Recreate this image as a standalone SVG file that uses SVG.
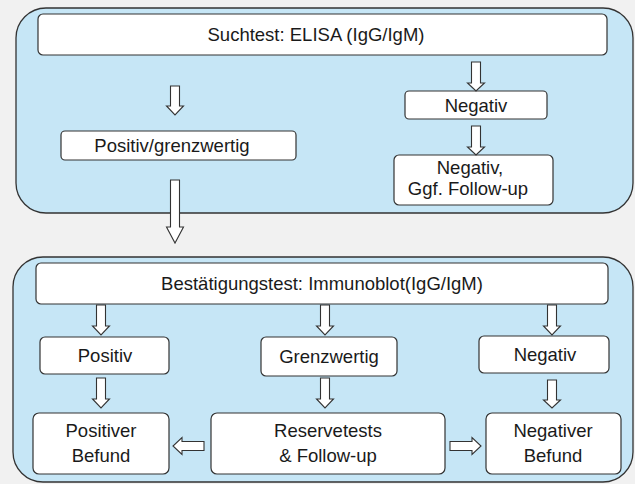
<svg xmlns="http://www.w3.org/2000/svg" width="635" height="484" viewBox="0 0 635 484">
<style>
.bg{fill:#f1f1f1}
.panel{fill:#c6e6f6;stroke:#333;stroke-width:1.3}
.box{fill:#fff;stroke:#333;stroke-width:1.2}
.arr{fill:#fff;stroke:#333;stroke-width:1.1;stroke-linejoin:miter}
text{font-family:"Liberation Sans",Arial,sans-serif;font-size:18.5px;fill:#1a1a1a;text-anchor:middle}
</style>
<rect class="bg" x="0" y="0" width="635" height="484"/>
<g id="panel-top"><rect class="panel" x="16" y="8" width="617" height="205" rx="30" ry="30"/></g>
<g id="panel-bottom"><rect class="panel" x="13" y="257" width="620" height="225" rx="30" ry="30"/></g>

<g id="n-elisa"><rect class="box" x="38" y="14" width="569" height="41" rx="5"/><text x="316" y="41">Suchtest: ELISA (IgG/IgM)</text></g>
<g id="n-posgrenz"><rect class="box" x="61" y="131" width="235" height="29" rx="4"/><text x="172" y="152">Positiv/grenzwertig</text></g>
<g id="n-neg1"><rect class="box" x="405" y="91" width="142" height="28" rx="4"/><text x="476" y="112">Negativ</text></g>
<g id="n-neg1b"><rect class="box" x="394" y="155" width="159" height="50" rx="5"/><text x="470" y="174">Negativ,</text><text x="468" y="195">Ggf. Follow-up</text></g>

<g id="n-immuno"><rect class="box" x="36" y="263" width="572" height="41" rx="5"/><text x="322" y="290">Bestätigungstest: Immunoblot(IgG/IgM)</text></g>
<g id="n-pos"><rect class="box" x="40" y="337" width="129" height="37" rx="5"/><text x="105" y="362">Positiv</text></g>
<g id="n-grenz"><rect class="box" x="261" y="337" width="136" height="39" rx="5"/><text x="329" y="363">Grenzwertig</text></g>
<g id="n-neg2"><rect class="box" x="479" y="336" width="130" height="37" rx="5"/><text x="545" y="361">Negativ</text></g>
<g id="n-posbef"><rect class="box" x="33" y="413" width="136" height="61" rx="6"/><text x="101" y="437">Positiver</text><text x="101" y="462">Befund</text></g>
<g id="n-reserve"><rect class="box" x="211" y="413" width="234" height="61" rx="6"/><text x="328" y="437">Reservetests</text><text x="328" y="462">&amp; Follow-up</text></g>
<g id="n-negbef"><rect class="box" x="486" y="413" width="135" height="61" rx="6"/><text x="553" y="437">Negativer</text><text x="553" y="462">Befund</text></g>

<g id="connectors">
<path class="arr" d="M170.5 86H179.5V106H183.5L175 115L166.5 106H170.5Z"/>
<path class="arr" d="M170.5 180H179.5V227H183.5L175 243L166.5 227H170.5Z"/>
<path class="arr" d="M471.5 62H480.5V83H484.5L476 91L467.5 83H471.5Z"/>
<path class="arr" d="M471.5 126H480.5V147H484.5L476 155L467.5 147H471.5Z"/>
<path class="arr" d="M96.5 305H105.5V326H109.5L101 335L92.5 326H96.5Z"/>
<path class="arr" d="M320.5 305H329.5V326H333.5L325 335L316.5 326H320.5Z"/>
<path class="arr" d="M547.5 305H556.5V326H560.5L552 335L543.5 326H547.5Z"/>
<path class="arr" d="M96.5 378H105.5V399H109.5L101 408L92.5 399H96.5Z"/>
<path class="arr" d="M320.5 378H329.5V399H333.5L325 408L316.5 399H320.5Z"/>
<path class="arr" d="M547.5 380H556.5V400H560.5L552 408L543.5 400H547.5Z"/>
<path class="arr" d="M204 441.5V450.5H182V454.5L173 446L182 437.5V441.5Z"/>
<path class="arr" d="M450 441.5V450.5H472V454.5L481 446L472 437.5V441.5Z"/>
</g>
</svg>
